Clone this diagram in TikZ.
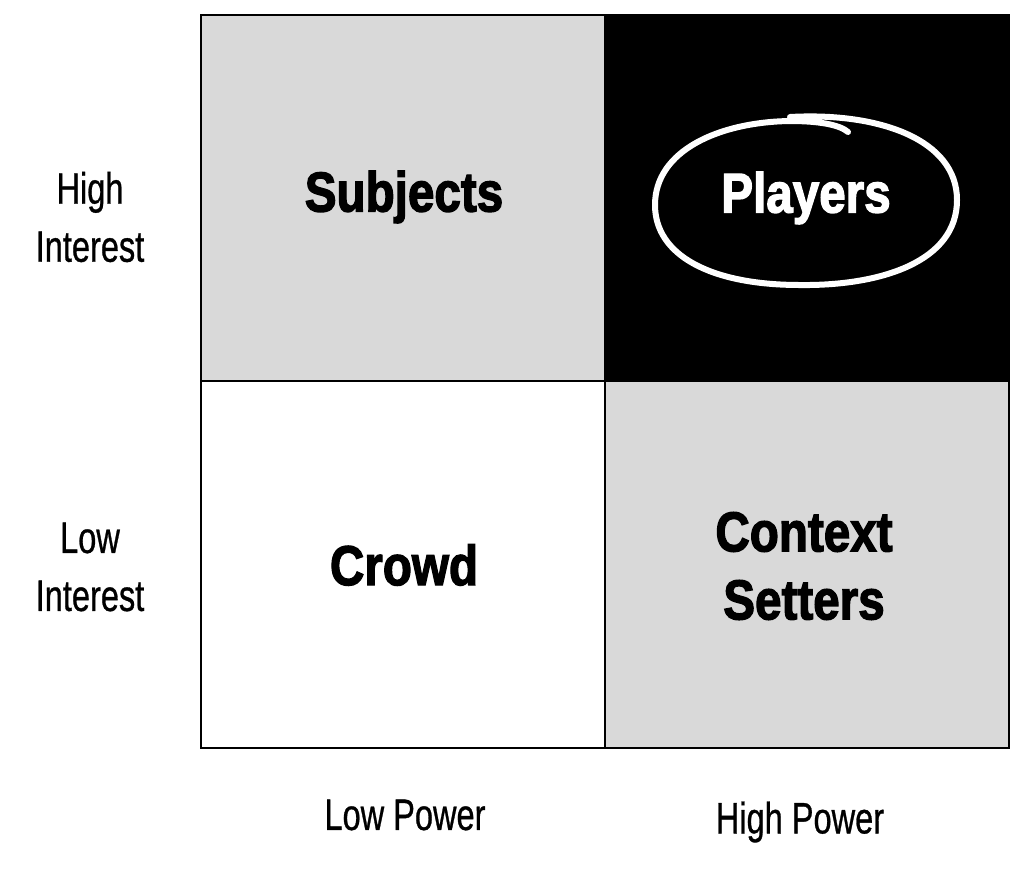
\documentclass[tikz,border=0pt]{standalone}
\usepackage{fontspec}
\setmainfont{Liberation Sans}
\newfontfamily\heavyfont[FakeBold=2.5]{Liberation Sans Bold}
\newfontfamily\medfont[FakeBold=0.8]{Liberation Sans}
\begin{document}
\begin{tikzpicture}[x=1pt,y=-1pt,
  cell/.style={draw=black,line width=2.8pt},
  big/.style={font=\fontsize{56}{60}\heavyfont,xscale=0.85,align=center},
  axis/.style={font=\fontsize{44}{58}\medfont,xscale=0.74,align=center},
  loop/.style={draw=white,line width=6pt,line cap=round}]
\useasboundingbox (0,0) rectangle (1024,879);
\fill[white] (0,0) rectangle (1024,879);
\path[cell,fill=black!15] (201,15) rectangle (605,381);
\path[cell,fill=black] (605,15) rectangle (1009,381);
\path[cell,fill=white] (201,381) rectangle (605,748);
\path[cell,fill=black!15] (605,381) rectangle (1009,748);
\node[big] (subj) at (404,197) {Subjects};
\node[big,text=white] (play) at (806,198) {Players};
\node[big] (crowd) at (404,565) {Crowd};
\node[big,font=\fontsize{56}{68}\heavyfont] (ctx) at (804,566) {Context\\Setters};
\node[axis] (hi) at (90,217) {High\\Interest};
\node[axis] (li) at (90,567) {Low\\Interest};
\node[axis] (lp) at (405,815) {Low Power};
\node[axis] (hp) at (800,822) {High Power};
\draw[loop] (790,117) .. controls (880,112) and (957,140) .. (957,200)
  .. controls (957,262) and (880,286) .. (800,285)
  .. controls (710,285) and (655,255) .. (655,205)
  .. controls (655,150) and (720,122) .. (790,121)
  .. controls (820,121) and (840,125) .. (848,132);
\end{tikzpicture}
\end{document}
